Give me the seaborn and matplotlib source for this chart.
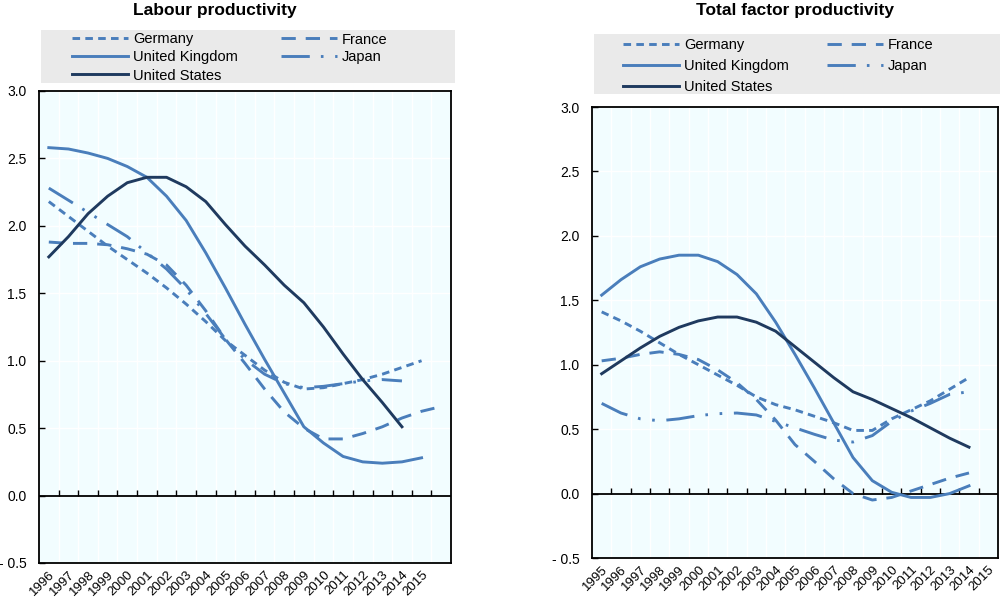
import numpy as np
import pandas as pd
import matplotlib
matplotlib.use("Agg")
import matplotlib.pyplot as plt
import seaborn as sns
from matplotlib.patches import Rectangle
from matplotlib.ticker import FixedLocator, FuncFormatter

plt.rcParams['font.family'] = ['Liberation Sans', 'DejaVu Sans']

# ---------------- data ----------------
countries = ['Germany', 'France', 'United Kingdom', 'Japan', 'United States']

# Labour productivity: 21 category slots, labels on the first 20
lp_labels = [str(y) for y in range(1996, 2016)] + ['']
lp_germany = [2.18, 2.07, 1.96, 1.85, 1.75, 1.65, 1.54, 1.42, 1.29, 1.15,
              1.04, 0.93, 0.84, 0.79, 0.80, 0.83, 0.86, 0.90, 0.95, 1.00]
lp_france = [1.88, 1.87, 1.87, 1.86, 1.83, 1.79, 1.71, 1.56, 1.37, 1.16,
             0.98, 0.79, 0.62, 0.50, 0.42, 0.42, 0.46, 0.51, 0.575, 0.625, 0.66]
lp_uk = [2.58, 2.57, 2.54, 2.50, 2.44, 2.36, 2.22, 2.04, 1.80, 1.54,
         1.27, 1.01, 0.76, 0.51, 0.39, 0.29, 0.25, 0.24, 0.25, 0.28]
lp_japan = [2.28, 2.19, 2.10, 2.01, 1.92, 1.80, 1.68, 1.53, 1.35, 1.16,
            1.01, 0.90, 0.83, 0.80, 0.81, 0.83, 0.85, 0.86, 0.85]
lp_us = [1.77, 1.92, 2.09, 2.22, 2.32, 2.36, 2.36, 2.29, 2.18, 2.01,
         1.85, 1.71, 1.56, 1.43, 1.25, 1.05, 0.86, 0.69, 0.51]

# Total factor productivity: 21 category slots, 1995-2015 labels
tfp_labels = [str(y) for y in range(1995, 2016)]
tfp_germany = [1.41, 1.34, 1.26, 1.17, 1.08, 1.00, 0.92, 0.84, 0.75, 0.69,
               0.65, 0.60, 0.55, 0.49, 0.49, 0.58, 0.65, 0.72, 0.81, 0.90]
tfp_france = [1.03, 1.05, 1.08, 1.10, 1.08, 1.04, 0.96, 0.86, 0.73, 0.57,
              0.38, 0.25, 0.115, 0.0, -0.05, -0.03, 0.02, 0.07, 0.12, 0.16]
tfp_uk = [1.54, 1.66, 1.76, 1.82, 1.85, 1.85, 1.80, 1.70, 1.55, 1.33,
          1.08, 0.82, 0.55, 0.28, 0.10, 0.01, -0.03, -0.03, 0.00, 0.06]
tfp_japan = [0.70, 0.625, 0.58, 0.565, 0.58, 0.605, 0.62, 0.625, 0.61, 0.56,
             0.51, 0.46, 0.415, 0.40, 0.45, 0.56, 0.64, 0.70, 0.77, 0.79]
tfp_us = [0.93, 1.03, 1.13, 1.22, 1.29, 1.34, 1.37, 1.37, 1.33, 1.26,
          1.14, 1.02, 0.90, 0.79, 0.73, 0.66, 0.59, 0.51, 0.43, 0.36]

yticks = [-0.5, 0.0, 0.5, 1.0, 1.5, 2.0, 2.5, 3.0]

LIGHT = '#4A7EBB'
NAVY = '#1F3A5F'
palette = {'Germany': LIGHT, 'France': LIGHT, 'United Kingdom': LIGHT,
           'Japan': LIGHT, 'United States': NAVY}
dashes = {'Germany': (2.6, 1.8), 'France': (4.9, 3.4), 'United Kingdom': '',
          'Japan': (9.7, 3.8, 0.9, 4.0, 0.9, 4.0), 'United States': ''}


def long_df(series):
    rows = []
    for c, vals in zip(countries, series):
        for i, v in enumerate(vals):
            rows.append({'pos': i, 'value': v, 'country': c})
    return pd.DataFrame(rows)


lp_df = long_df([lp_germany, lp_france, lp_uk, lp_japan, lp_us])
tfp_df = long_df([tfp_germany, tfp_france, tfp_uk, tfp_japan, tfp_us])

fig = plt.figure(figsize=(10, 5.98), dpi=100)
W, H = 1000.0, 598.0


def fbox(x0, y0, x1, y1):
    return [x0 / W, 1 - y1 / H, (x1 - x0) / W, (y1 - y0) / H]


ax1 = fig.add_axes(fbox(39, 91, 451, 563))
ax2 = fig.add_axes(fbox(592, 107, 998, 558))


def fmt(v, _):
    return f"- {abs(v):.1f}" if v < -1e-9 else f"{v:.1f}"


def draw(ax, df, labels):
    n = len(labels)
    ax.set_facecolor('#F2FDFF')
    sns.lineplot(data=df, x='pos', y='value', hue='country', style='country',
                 hue_order=countries, style_order=countries,
                 palette=palette, dashes=dashes, estimator=None, errorbar=None,
                 sort=False, lw=2.1, legend=False, ax=ax, zorder=3)
    ax.set_xlim(-0.5, n - 0.5)
    ax.set_ylim(-0.5, 3.0)
    ax.set_xlabel('')
    ax.set_ylabel('')
    ax.xaxis.set_major_locator(FixedLocator(np.arange(n)))
    ax.set_xticklabels(labels, rotation=45, ha='right', va='top',
                       rotation_mode='anchor', fontsize=9.5)
    ax.xaxis.set_minor_locator(FixedLocator(np.arange(n - 1) + 0.5))
    ax.tick_params(axis='x', which='both', length=0, pad=4)
    ax.yaxis.set_major_locator(FixedLocator(yticks))
    ax.yaxis.set_major_formatter(FuncFormatter(fmt))
    ax.tick_params(axis='y', direction='in', length=4, width=1, pad=9,
                   labelsize=10, color='black')
    ax.grid(which='minor', axis='x', color='white', lw=1)
    ax.grid(which='major', axis='y', color='white', lw=1)
    ax.set_axisbelow(True)
    ax.axhline(0, color='black', lw=1.3, zorder=2)
    ax.vlines(np.arange(n - 1) + 0.5, 0, 0.045, color='black', lw=1.0, zorder=2)
    for s in ax.spines.values():
        s.set_color('black')
        s.set_linewidth(1.3)


draw(ax1, lp_df, lp_labels)
draw(ax2, tfp_df, tfp_labels)

fig.text(215 / W, 1 - 3.5 / H, 'Labour productivity', ha='center', va='top',
         fontsize=12.5, fontweight='bold')
fig.text(795 / W, 1 - 3.5 / H, 'Total factor productivity', ha='center', va='top',
         fontsize=12.5, fontweight='bold')

fig.add_artist(Rectangle((41 / W, 1 - 83 / H), 414 / W, 53 / H,
                         transform=fig.transFigure, facecolor='#EAEAEA',
                         edgecolor='none', zorder=0))
fig.add_artist(Rectangle((594 / W, 1 - 94 / H), 406 / W, 60 / H,
                         transform=fig.transFigure, facecolor='#EAEAEA',
                         edgecolor='none', zorder=0))

order = ['Germany', 'United Kingdom', 'United States', 'France', 'Japan']


def add_legend(ax, x, ytop, spacing, colsp):
    lines = dict(zip(countries, ax.lines[:5]))
    handles = [lines[c] for c in order]
    fs = 10.5
    em = fs * 100 / 72.0
    leg = fig.legend(handles, order, loc='upper left',
                     bbox_to_anchor=(x / W, 1 - ytop / H),
                     bbox_transform=fig.transFigure, ncol=2, frameon=False,
                     borderpad=0, borderaxespad=0, handlelength=56 / em,
                     handletextpad=5 / em, columnspacing=colsp / em,
                     labelspacing=spacing / em, fontsize=fs)
    leg.set_zorder(5)


add_legend(ax1, 72, 32.5, 4.0, 43)
add_legend(ax2, 623, 38, 7.0, 38)

fig.savefig('out.png', dpi=100)
